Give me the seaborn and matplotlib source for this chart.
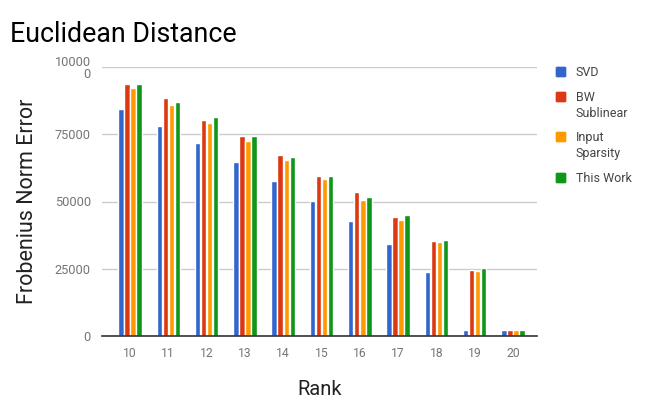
import matplotlib
matplotlib.use("Agg")
import matplotlib.pyplot as plt
import seaborn as sns
import pandas as pd
from matplotlib.patches import FancyBboxPatch

ranks = ["10", "11", "12", "13", "14", "15", "16", "17", "18", "19", "20"]
svd = [84400, 78000, 71700, 64700, 57600, 50100, 42600, 34200, 23700, 2100, 2100]
bw_sublinear = [93700, 88500, 80300, 74300, 67300, 59500, 53400, 44100, 35300, 24500, 2100]
input_sparsity = [92200, 85900, 79200, 72500, 65400, 58200, 50600, 43100, 34900, 24200, 2100]
this_work = [93700, 87000, 81400, 74300, 66500, 59500, 51500, 45000, 35600, 25200, 2100]
series_names = ["SVD", "BW\nSublinear", "Input\nSparsity", "This Work"]
colors = ["#3366cc", "#dc3912", "#ff9900", "#109618"]
ytick_vals = [0, 25000, 50000, 75000, 100000]
ytick_labels = ["0", "25000", "50000", "75000", "10000\n0"]

rows = []
for name, vals in zip(series_names, [svd, bw_sublinear, input_sparsity, this_work]):
    for r, v in zip(ranks, vals):
        rows.append({"Rank": r, "Series": name, "Value": v})
df = pd.DataFrame(rows)

sns.set_theme(style="white")
plt.rcParams["font.family"] = ["Roboto", "DejaVu Sans"]

W, H = 646, 399
fig = plt.figure(figsize=(W / 100, H / 100), dpi=100)
ax = fig.add_axes([102 / W, 1 - 336 / H, (537 - 102) / W, (336 - 67) / H])

sns.barplot(data=df, x="Rank", y="Value", hue="Series", palette=colors,
            width=0.63, gap=0.1, ax=ax, legend=False, saturation=1)

step = (513 - 130) / 10
ax.set_xlim(-(130 - 102) / step, 10 + (537 - 513) / step)
ax.set_ylim(0, 100000)
ax.set_yticks(ytick_vals)
ax.set_yticklabels(ytick_labels, color="#757575", fontsize=9.2, linespacing=0.95)
ax.tick_params(axis="y", length=0, pad=8)
ax.tick_params(axis="x", length=0, pad=8, labelsize=8.7, labelcolor="#757575")
ax.yaxis.grid(True, color="#cccccc", linewidth=1)
ax.set_axisbelow(True)
for s in ["top", "right", "left"]:
    ax.spines[s].set_visible(False)
ax.spines["bottom"].set_color("#333333")
ax.spines["bottom"].set_linewidth(1.2)

ax.set_xlabel("Rank", fontsize=14.5, color="#222222", labelpad=14)
ax.set_ylabel("Frobenius Norm Error", fontsize=15.5, color="#222222", labelpad=12)
fig.text(10 / W, 1 - 35 / H, "Euclidean Distance", fontsize=19.3, color="black",
         va="center", ha="left")

# manual legend
leg_y = [72, 97, 137, 178]
for name, c, yy in zip(series_names, colors, leg_y):
    fig.patches.append(FancyBboxPatch((556 / W, 1 - (yy + 5) / H), 10 / W, 10 / H,
                                      boxstyle="round,pad=0,rounding_size=0.002",
                                      transform=fig.transFigure, facecolor=c,
                                      edgecolor=c, linewidth=0.5))
    fig.text(576 / W, 1 - (yy - 6) / H, name, fontsize=9, color="#444444",
             va="top", ha="left", linespacing=1.3)

fig.savefig("out.png", dpi=100)
